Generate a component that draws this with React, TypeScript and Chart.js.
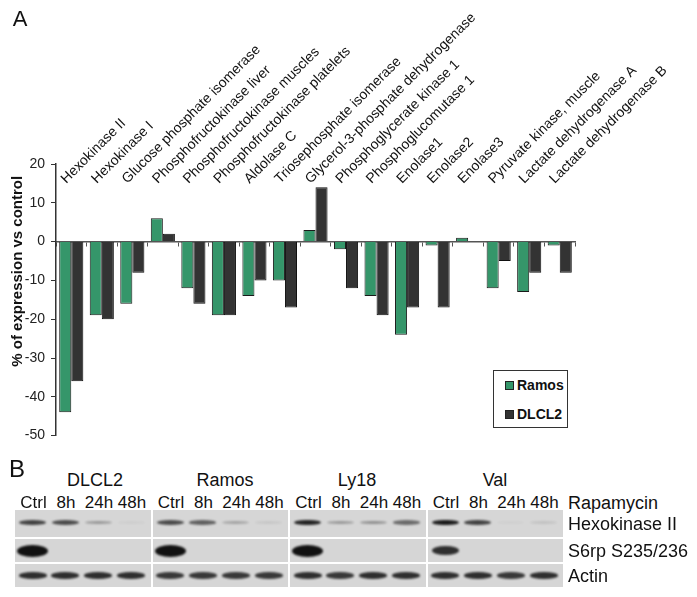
import React, { useEffect, useRef } from "react";
import { Chart, registerables } from "chart.js";

Chart.register(...registerables);

const FONT = '"Liberation Sans", Arial, Helvetica, sans-serif';

// ---- Panel A data ----
const categories = [
  "Hexokinase II",
  "Hexokinase I",
  "Glucose phosphate isomerase",
  "Phosphofructokinase liver",
  "Phosphofructokinase muscles",
  "Phosphofructokinase platelets",
  "Aldolase C",
  "Triosephosphate isomerase",
  "Glycerol-3-phosphate dehydrogenase",
  "Phosphoglycerate kinase 1",
  "Phosphoglucomutase 1",
  "Enolase1",
  "Enolase2",
  "Enolase3",
  "Pyruvate kinase, muscle",
  "Lactate dehydrogenase A",
  "Lactate dehydrogenase B",
];
const ramosValues = [-44, -19, -16, 6, -12, -19, -14, -10, 3, -2, -14, -24, -1, 1, -12, -13, -1];
const dlcl2Values = [-36, -20, -8, 2, -16, -19, -10, -17, 14, -12, -19, -17, -17, 0, -5, -8, -8];
const seriesNames = ["Ramos", "DLCL2"];
const yMin = -50;
const yMax = 20;
const yStep = 10;
const yTitle = "% of expression vs control";

// ---- Panel B data (band intensities 0..1, per cell line, per time point) ----
const cellLines = ["DLCL2", "Ramos", "Ly18", "Val"];
const timePoints = ["Ctrl", "8h", "24h", "48h"];
const blotTargets = ["Hexokinase II", "S6rp S235/236", "Actin"];
const treatmentLabel = "Rapamycin";
const hexokinaseBands = [
  [0.75, 0.7, 0.3, 0.04],
  [0.7, 0.6, 0.25, 0.08],
  [0.9, 0.3, 0.35, 0.55],
  [0.95, 0.75, 0.03, 0.1],
];
const s6rpBands = [
  [1, 0, 0, 0],
  [1, 0, 0, 0],
  [1, 0, 0, 0],
  [0.85, 0, 0, 0],
];
const actinBands = [
  [0.85, 0.85, 0.85, 0.85],
  [0.8, 0.8, 0.8, 0.8],
  [0.85, 0.8, 0.85, 0.85],
  [0.85, 0.85, 0.8, 0.85],
];

const GREEN = "#35966a";
const DARK = "#333333";

const categoryLabelPlugin = {
  id: "categoryLabels",
  afterDraw(chart: any) {
    const { ctx, chartArea } = chart;
    const xScale = chart.scales.x;
    ctx.save();
    ctx.font = `14px ${FONT}`;
    ctx.fillStyle = "#111";
    ctx.textAlign = "left";
    ctx.textBaseline = "alphabetic";
    categories.forEach((label, i) => {
      const px = xScale.getPixelForValue(i);
      ctx.save();
      ctx.translate(px - 5, chartArea.top + 20);
      ctx.rotate(-Math.PI / 4);
      ctx.fillText(label, 0, 0);
      ctx.restore();
    });
    ctx.restore();
  },
};

const yTitlePlugin = {
  id: "yTitle",
  afterDraw(chart: any) {
    const { ctx, chartArea } = chart;
    ctx.save();
    ctx.font = `bold 15px ${FONT}`;
    ctx.fillStyle = "#111";
    ctx.textAlign = "center";
    ctx.textBaseline = "middle";
    ctx.translate(18, chartArea.top + (chartArea.bottom - chartArea.top) * 0.395);
    ctx.rotate(-Math.PI / 2);
    ctx.fillText(yTitle, 0, 0);
    ctx.restore();
  },
};

function BarChart() {
  const ref = useRef<HTMLCanvasElement | null>(null);
  useEffect(() => {
    if (!ref.current) return;
    const chart = new Chart(ref.current, {
      type: "bar",
      data: {
        labels: categories,
        datasets: [
          {
            label: seriesNames[0],
            data: ramosValues,
            backgroundColor: GREEN,
            borderColor: "#1a1a1a",
            borderWidth: 1,
            categoryPercentage: 0.79,
            barPercentage: 1,
          },
          {
            label: seriesNames[1],
            data: dlcl2Values,
            backgroundColor: DARK,
            borderColor: "#111",
            borderWidth: 1,
            categoryPercentage: 0.79,
            barPercentage: 1,
          },
        ],
      },
      options: {
        responsive: false,
        animation: false,
        layout: { padding: { left: 0, right: 122, top: 164, bottom: 13 } },
        plugins: { legend: { display: false }, tooltip: { enabled: false } },
        scales: {
          x: {
            position: { y: 0 } as any,
            grid: {
              drawOnChartArea: false,
              drawTicks: true,
              tickLength: 4,
              color: "#555",
              offset: true,
            },
            border: { display: true, color: "#555", width: 1.5 },
            ticks: { display: false },
          },
          y: {
            min: yMin,
            max: yMax,
            ticks: {
              stepSize: yStep,
              font: { size: 14, family: FONT },
              color: "#222",
              padding: 6,
            },
            grid: { drawOnChartArea: false, tickLength: 5, color: "#333" },
            border: { color: "#333", width: 1.5 },
            afterFit(s: any) {
              s.width = 56;
            },
          },
        },
      } as any,
      plugins: [categoryLabelPlugin, yTitlePlugin],
    });
    return () => chart.destroy();
  }, []);
  return (
    <canvas
      ref={ref}
      width={697}
      height={450}
      style={{ position: "absolute", left: 0, top: 0, width: 697, height: 450 }}
    />
  );
}

const BLOT_LEFT = 15;
const PANEL_W = 135.5;
const PANEL_GAP = 2;
const ROWS = [
  { top: 510, h: 27 },
  { top: 539, h: 23 },
  { top: 564, h: 23 },
];
const LANE_REL = [17.5, 50, 83, 116];
const NAME_X = [95, 225, 357, 495];

function Blot() {
  const rowsData = [hexokinaseBands, s6rpBands, actinBands];
  const items: any[] = [];
  cellLines.forEach((_, p) => {
    const pl = BLOT_LEFT + p * (PANEL_W + PANEL_GAP);
    ROWS.forEach((row, r) => {
      items.push(
        <div
          key={`bg-${p}-${r}`}
          style={{
            position: "absolute",
            left: pl,
            top: row.top,
            width: PANEL_W,
            height: row.h,
            background: "#d6d6d6",
          }}
        />
      );
      rowsData[r][p].forEach((v: number, l: number) => {
        if (v <= 0) return;
        let w = 27;
        let h = 4;
        let blur = 1;
        if (r === 0) {
          w = 27;
          h = 2.5 + 3.5 * v;
          blur = 0.9;
        } else if (r === 1) {
          w = p === 3 ? 27 : 31;
          h = p === 3 ? 9 : 12;
          blur = 1.3;
        } else {
          w = 28;
          h = 6.5;
          blur = 0.9;
        }
        const cx = pl + LANE_REL[l];
        const cy = row.top + row.h / 2 + (r === 0 ? -1 : 0);
        items.push(
          <div
            key={`b-${p}-${r}-${l}`}
            style={{
              position: "absolute",
              left: cx - w / 2,
              top: cy - h / 2,
              width: w,
              height: h,
              background: "#111",
              borderRadius: "50%",
              filter: `blur(${blur}px)`,
              opacity: v,
            }}
          />
        );
      });
    });
  });

  const labelStyle = (x: number, y: number, size: number): any => ({
    position: "absolute",
    left: x,
    top: y,
    transform: "translate(-50%, -50%)",
    fontSize: size,
    lineHeight: 1,
    whiteSpace: "nowrap",
    color: "#111",
  });

  return (
    <>
      <div style={labelStyle(17, 468.5, 24)}>B</div>
      {cellLines.map((n, p) => (
        <div key={`cl-${p}`} style={labelStyle(NAME_X[p], 480, 18)}>
          {n}
        </div>
      ))}
      {cellLines.map((_, p) =>
        timePoints.map((t, l) => (
          <div
            key={`tp-${p}-${l}`}
            style={labelStyle(BLOT_LEFT + p * (PANEL_W + PANEL_GAP) + LANE_REL[l] + 1, 502, 17)}
          >
            {t}
          </div>
        ))
      )}
      {items}
      <div
        style={{
          position: "absolute",
          left: 568,
          top: 503,
          transform: "translateY(-50%)",
          fontSize: 18,
          lineHeight: 1,
          color: "#111",
          whiteSpace: "nowrap",
        }}
      >
        {treatmentLabel}
      </div>
      {blotTargets.map((t, r) => (
        <div
          key={`tg-${r}`}
          style={{
            position: "absolute",
            left: 568,
            top: ROWS[r].top + ROWS[r].h / 2,
            transform: "translateY(-50%)",
            fontSize: 18,
            lineHeight: 1,
            color: "#111",
            whiteSpace: "nowrap",
          }}
        >
          {t}
        </div>
      ))}
    </>
  );
}

function Legend() {
  const colors = [GREEN, DARK];
  return (
    <div
      style={{
        position: "absolute",
        left: 493,
        top: 370,
        width: 75,
        height: 58,
        border: "1px solid #333",
        background: "#fff",
        boxSizing: "border-box",
      }}
    >
      {seriesNames.map((n, i) => (
        <div
          key={n}
          style={{
            position: "absolute",
            left: 11,
            top: i === 0 ? 14 : 43,
            transform: "translateY(-50%)",
            display: "flex",
            alignItems: "center",
            fontWeight: "bold",
            fontSize: 14,
            lineHeight: 1,
            color: "#111",
          }}
        >
          <span
            style={{
              display: "inline-block",
              width: 7,
              height: 7,
              background: colors[i],
              border: "1px solid #222",
              marginRight: 3,
            }}
          />
          {n}
        </div>
      ))}
    </div>
  );
}

export default function App() {
  return (
    <div
      style={{
        position: "fixed",
        left: 0,
        top: 0,
        width: 697,
        height: 597,
        background: "#fff",
        fontFamily: FONT,
        overflow: "hidden",
      }}
    >
      <BarChart />
      <div
        style={{
          position: "absolute",
          left: 20,
          top: 19,
          transform: "translate(-50%, -50%)",
          fontSize: 22,
          lineHeight: 1,
          color: "#111",
        }}
      >
        A
      </div>
      <Legend />
      <Blot />
    </div>
  );
}
